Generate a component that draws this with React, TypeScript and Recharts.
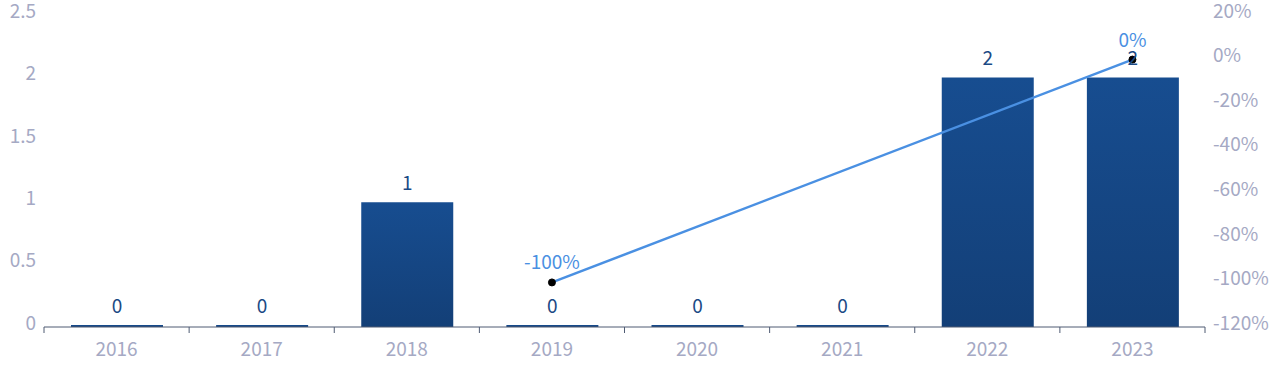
import { ComposedChart, Bar, Line, XAxis, YAxis, LabelList } from "recharts";

const years = ["2016", "2017", "2018", "2019", "2020", "2021", "2022", "2023"];
const counts = [0, 0, 1, 0, 0, 0, 2, 2];
const growth: (number | null)[] = [null, null, null, -100, null, null, null, 0];

const leftTicks = [0, 0.5, 1, 1.5, 2, 2.5];
const rightTicks = [-120, -100, -80, -60, -40, -20, 0, 20];

const data = years.map((year, i) => ({
  year,
  count: counts[i],
  growth: growth[i],
}));

const FONT = '"Noto Sans CJK SC", "Noto Sans", sans-serif';
const TICK_COLOR = "#a5a9c4";
const AXIS_COLOR = "#4f5b73";

// category label in the middle, tick marks on the band edges
const XTick = (props: any) => {
  const { x, y, payload, index, visibleTicksCount } = props;
  const half = payload && payload.offset ? payload.offset : 72.6;
  const top = y - 8;
  return (
    <g>
      <line x1={x - half} x2={x - half} y1={top} y2={top + 6} stroke={AXIS_COLOR} />
      {index === visibleTicksCount - 1 && (
        <line x1={x + half} x2={x + half} y1={top} y2={top + 6} stroke={AXIS_COLOR} />
      )}
      <text x={x} y={y + 21} textAnchor="middle" fill={TICK_COLOR} fontSize={19} fontFamily={FONT}>
        {payload.value}
      </text>
    </g>
  );
};

export default function App() {
  return (
    <div style={{ position: "absolute", left: 0, top: 0 }}>
      <ComposedChart
        width={1280}
        height={382}
        data={data}
        margin={{ top: 15, right: 0, bottom: 0, left: 0 }}
      >
        <defs>
          <linearGradient id="barFill" x1="0" y1="0" x2="0" y2="1">
            <stop offset="0%" stopColor="#174d90" />
            <stop offset="100%" stopColor="#133f77" />
          </linearGradient>
        </defs>
        <XAxis
          dataKey="year"
          height={55}
          axisLine={{ stroke: AXIS_COLOR }}
          tickLine={false}
          tickSize={6}
          tickMargin={2}
          tick={<XTick />}
          interval={0}
        />
        <YAxis
          yAxisId="left"
          width={44}
          domain={[0, 2.5]}
          ticks={leftTicks}
          axisLine={false}
          tickLine={false}
          tick={{ fill: TICK_COLOR, fontSize: 19, fontFamily: FONT, dy: -4 }}
        />
        <YAxis
          yAxisId="right"
          orientation="right"
          width={75}
          domain={[-120, 20]}
          ticks={rightTicks}
          axisLine={false}
          tickLine={false}
          tickFormatter={(v) => `${v}%`}
          tick={{ fill: TICK_COLOR, fontSize: 19, fontFamily: FONT, dy: -4 }}
        />
        <Bar
          yAxisId="left"
          dataKey="count"
          barSize={92}
          minPointSize={2}
          fill="url(#barFill)"
          isAnimationActive={false}
        >
          <LabelList
            dataKey="count"
            position="top"
            offset={12}
            fill="#1b4a85"
            fontSize={19}
            fontFamily={FONT}
          />
        </Bar>
        <Line
          yAxisId="right"
          dataKey="growth"
          connectNulls
          stroke="#4a90e2"
          strokeWidth={2.5}
          dot={{ r: 3.5, fill: "#000", stroke: "#000", strokeWidth: 1 }}
          activeDot={false}
          isAnimationActive={false}
        >
          <LabelList
            dataKey="growth"
            position="top"
            offset={13}
            fill="#4a90e2"
            fontSize={19}
            fontFamily={FONT}
            formatter={(v: any) => (v === null || v === undefined ? "" : `${v}%`)}
          />
        </Line>
      </ComposedChart>
    </div>
  );
}
